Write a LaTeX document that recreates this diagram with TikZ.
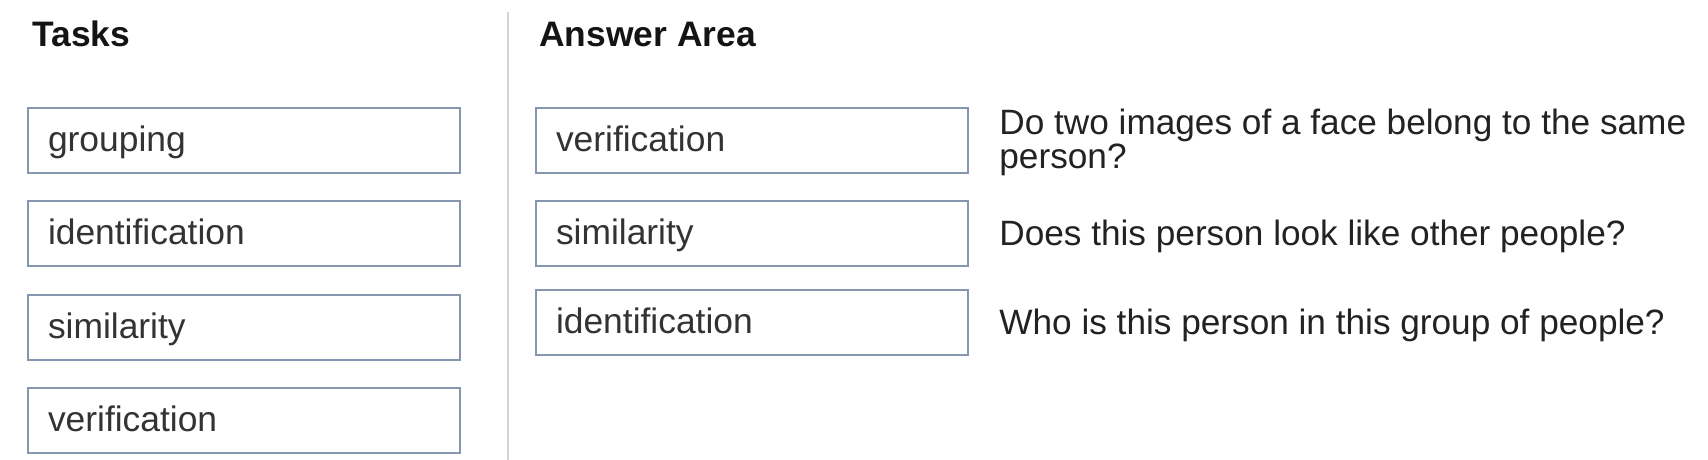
\documentclass[tikz,border=0pt]{standalone}
\usepackage{fontspec}
\setmainfont{Liberation Sans}
\usetikzlibrary{positioning}
\definecolor{boxline}{RGB}{135,150,176}
\definecolor{boxtext}{RGB}{51,51,51}
\definecolor{headtext}{RGB}{20,20,20}
\definecolor{asktext}{RGB}{34,34,34}
\definecolor{rulegray}{RGB}{212,212,212}

\begin{document}
\begin{tikzpicture}
		[node distance=46.7pt,
		 box/.style={draw=boxline, line width=1pt, fill=white, text=boxtext,
			text width=196pt, inner xsep=10pt, minimum height=32.5pt, align=left,
			text height=14pt, text depth=3pt, font=\fontsize{17.7}{20}\selectfont},
		 head/.style={inner sep=0pt, text=headtext, font=\fontsize{17.7}{20}\selectfont\bfseries},
		 ask/.style={inner sep=0pt, text=asktext, align=left,
			font=\fontsize{17.6}{16.8}\selectfont}]
		\useasboundingbox (0,0) rectangle (854pt,-230pt);

		% tasks %
		\node[box] (t1) at (122pt,-70.25pt) {grouping};
		\node[box, below of = t1] (t2) {identification};
		\node[box, below of = t2] (t3) {similarity};
		\node[box, below of = t3] (t4) {verification};
		\node[head, above right=30pt and 2.5pt of t1.north west] (tasks) {Tasks};

		% answer area %
		\node[box] (a1) at (376pt,-70.25pt) {verification};
		\node[box, below of = a1] (a2) {similarity};
		\node[box, below of = a2, yshift=2.4pt] (a3) {identification};
		\node[head, above right=30pt and 2pt of a1.north west] (answer) {Answer Area};

		% questions %
		\node[ask, right=15pt of a1, yshift=-1pt] (q1) {Do two images of a face belong to the same\\person?};
		\node[ask, text depth=1pt, right=15pt of a2] (q2) {Does this person look like other people?};
		\node[ask, text depth=1pt, right=15pt of a3] (q3) {Who is this person in this group of people?};

		% divider %
		\draw[rulegray, line width=1.2pt] (254pt,-6pt) -- (254pt,-230pt);
		\end{tikzpicture}
\end{document}
